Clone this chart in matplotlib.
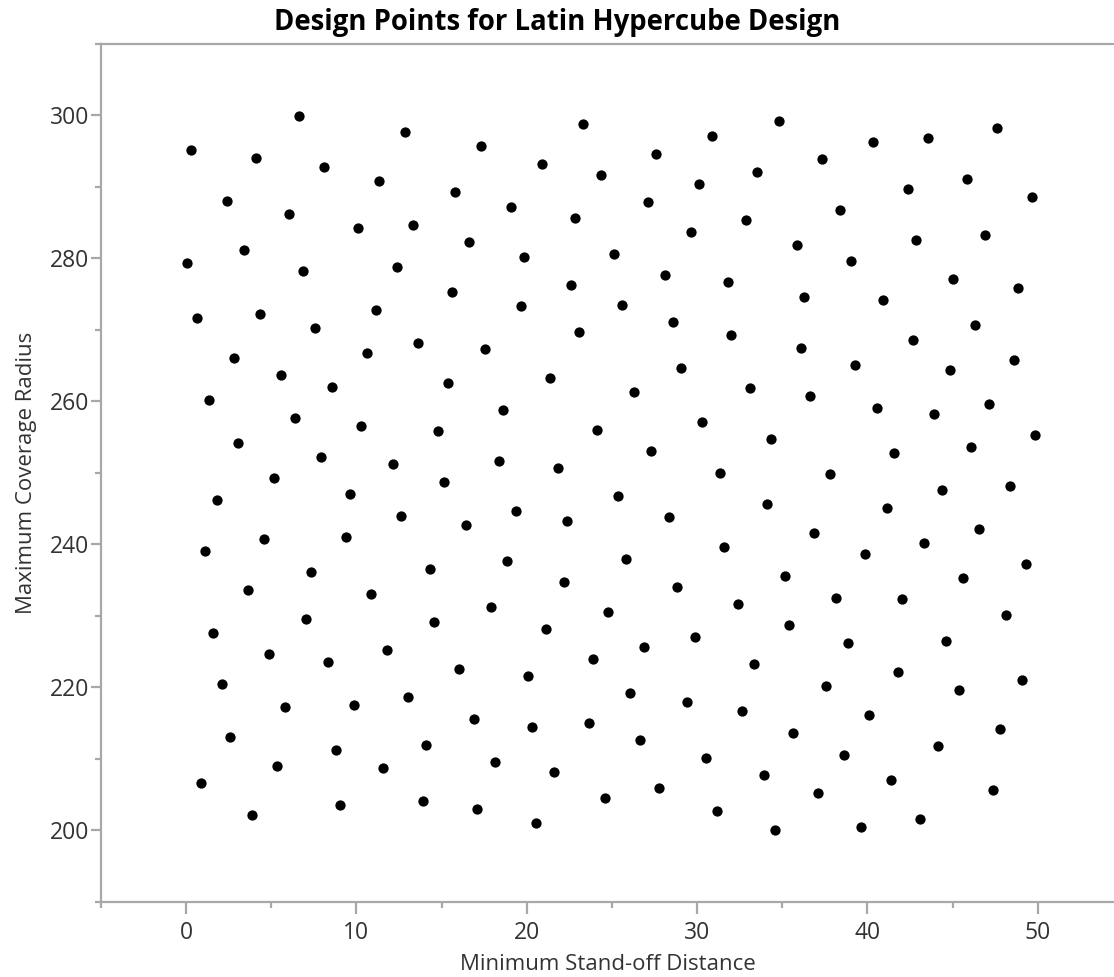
import numpy as np
import matplotlib as mpl
import matplotlib.pyplot as plt

# design points (left band, middle band, right band)
standoff_left = [
    6.63, 12.85, 0.29, 4.11, 8.12, 11.34, 15.80, 2.37, 6.04, 10.09, 13.30, 3.42,
    0.06, 6.87, 12.38, 15.61, 0.65, 4.32, 7.55, 11.13, 13.63, 2.83, 10.64, 5.59,
    8.59, 15.35, 1.33, 6.40, 10.29, 14.79, 3.05, 7.90, 12.15, 5.14, 15.12, 1.80,
    9.60, 12.59, 4.55, 9.39, 1.09, 7.31, 14.32, 3.61, 10.87, 7.06, 14.53, 1.56,
    4.89, 8.35, 11.80, 2.13, 5.81, 9.84, 13.05, 2.60, 8.80, 14.08, 5.34, 11.58,
    0.86, 3.85, 9.04, 13.88,
]
radius_left = [
    299.8, 297.6, 295.1, 294.0, 292.7, 290.8, 289.2, 288.0, 286.1, 284.2, 284.7, 281.2,
    279.3, 278.2, 278.7, 275.2, 271.6, 272.2, 270.2, 272.7, 268.1, 266.1, 266.7, 263.7,
    262.0, 262.6, 260.1, 257.7, 256.6, 255.8, 254.1, 252.2, 251.2, 249.2, 248.7, 246.2,
    247.0, 244.0, 240.7, 241.0, 239.1, 236.1, 236.6, 233.6, 233.1, 229.5, 229.2, 227.6,
    224.6, 223.5, 225.2, 220.5, 217.2, 217.5, 218.6, 213.1, 211.2, 212.0, 209.0, 208.7,
    206.6, 202.2, 203.5, 204.1,
]

standoff_mid = [
    23.32, 30.90, 17.33, 20.89, 27.56, 24.33, 30.11, 19.05, 22.85, 27.09, 29.64, 16.63,
    19.85, 25.15, 28.13, 31.83, 19.64, 22.61, 25.60, 28.60, 32.02, 23.06, 17.55, 21.34,
    26.29, 29.05, 18.58, 24.10, 30.30, 27.32, 18.35, 21.81,
    31.36, 25.37, 19.38, 22.39, 16.41, 28.38, 31.59, 18.81, 25.84, 22.16, 28.83, 17.90,
    24.78, 21.13, 29.87, 26.88, 23.88, 16.04, 20.09, 26.07, 29.40, 16.88, 20.31, 23.65,
    26.66, 30.55, 18.11, 21.57, 27.79, 24.57, 17.10, 20.54, 31.16,
]
radius_mid = [
    298.7, 297.1, 295.7, 293.2, 294.6, 291.6, 290.3, 287.2, 285.6, 287.8, 283.7, 282.3,
    280.1, 280.6, 277.7, 276.6, 273.3, 276.3, 273.5, 271.1, 269.2, 269.7, 267.3, 263.2,
    261.3, 264.6, 258.8, 256.0, 257.1, 253.1, 251.7, 250.7,
    250.0, 246.8, 244.6, 243.2, 242.7, 243.8, 239.6, 237.7, 238.0, 234.7, 234.1, 231.2,
    230.6, 228.1, 227.1, 225.7, 224.0, 222.6, 221.6, 219.2, 218.0, 215.6, 214.5, 215.0,
    212.6, 210.1, 209.5, 208.2, 206.0, 204.6, 203.0, 201.1, 202.7,
]

standoff_right = [
    34.82, 40.33, 43.54, 47.59, 37.34, 33.54, 42.39, 45.87, 49.65, 38.38, 32.86, 42.86,
    46.91, 35.86, 39.06, 45.05, 48.84, 36.30, 40.90, 46.32, 42.66, 36.09, 39.30, 44.84,
    48.61, 33.08, 36.65, 40.55, 43.91, 47.12, 49.86, 34.35, 41.58, 46.09,
    37.81, 44.37, 48.39, 34.11, 41.14, 36.87, 46.56, 43.33, 39.88, 49.31, 35.15, 45.62,
    32.39, 38.15, 42.05, 48.16, 35.39, 38.85, 44.60, 33.33, 41.82, 37.59, 45.40, 49.10,
    32.63, 40.10, 35.62, 47.80, 38.62, 44.13, 33.90, 41.37, 37.12, 47.36, 43.09, 39.65,
    34.58,
]
radius_right = [
    299.2, 296.2, 296.8, 298.2, 293.8, 292.1, 289.7, 291.1, 288.6, 286.7, 285.3, 282.6,
    283.2, 281.8, 279.6, 277.1, 275.8, 274.6, 274.1, 270.6, 268.6, 267.5, 265.1, 264.3,
    265.7, 261.8, 260.7, 259.1, 258.2, 259.6, 255.3, 254.7, 252.8, 253.6,
    249.8, 247.6, 248.1, 245.7, 245.1, 241.6, 242.1, 240.2, 238.6, 237.2, 235.5, 235.3,
    231.7, 232.5, 232.3, 230.1, 228.7, 226.2, 226.5, 223.3, 222.1, 220.2, 219.7, 221.1,
    216.7, 216.1, 213.6, 214.2, 210.6, 211.8, 207.7, 207.1, 205.2, 205.7, 201.6, 200.5,
    200.0,
]

x_major = [0, 10, 20, 30, 40, 50]
y_major = [200, 220, 240, 260, 280, 300]

axis_grey = "#a8a8a8"
text_dark = "#333333"

mpl.rcParams["font.family"] = ["Open Sans", "DejaVu Sans"]

fig = plt.figure(figsize=(11.14, 9.77), dpi=100)
ax = fig.add_axes([101 / 1114, 75 / 977, 1013 / 1114, 858.5 / 977])

x = np.concatenate([standoff_left, standoff_mid, standoff_right])
y = np.concatenate([radius_left, radius_mid, radius_right])
ax.plot(x, y, "o", color="black", markersize=7.4, markeredgewidth=0, clip_on=False)

ax.set_xlim(-5, 54.48)
ax.set_ylim(190, 310)
ax.set_xticks(x_major)
ax.set_yticks(y_major)
ax.set_xticks(np.arange(-5, 55, 10), minor=True)
ax.set_yticks(np.arange(190, 311, 20), minor=True)

for side in ["left", "bottom", "top"]:
    ax.spines[side].set_color(axis_grey)
    ax.spines[side].set_linewidth(1.6)
ax.spines["right"].set_visible(False)

ax.tick_params(axis="x", which="major", length=8.5, width=1.6, color=axis_grey,
               labelsize=16.5, labelcolor=text_dark, pad=5.5)
ax.tick_params(axis="x", which="minor", length=4.5, width=1.6, color=axis_grey)
ax.tick_params(axis="y", which="major", length=7, width=1.6, color=axis_grey,
               labelsize=16.5, labelcolor=text_dark, pad=1.5)
ax.tick_params(axis="y", which="minor", length=4, width=1.6, color=axis_grey)

ax.set_xlabel("Minimum Stand-off Distance", fontsize=16, color=text_dark, labelpad=6.5)
ax.set_ylabel("Maximum Coverage Radius", fontsize=16, color=text_dark, labelpad=9)

fig.text(0.5, 0.977, "Design Points for Latin Hypercube Design", ha="center",
         va="center", fontsize=19.8, fontweight="bold", color="black")

fig.savefig("out.png", dpi=100, facecolor="white")
